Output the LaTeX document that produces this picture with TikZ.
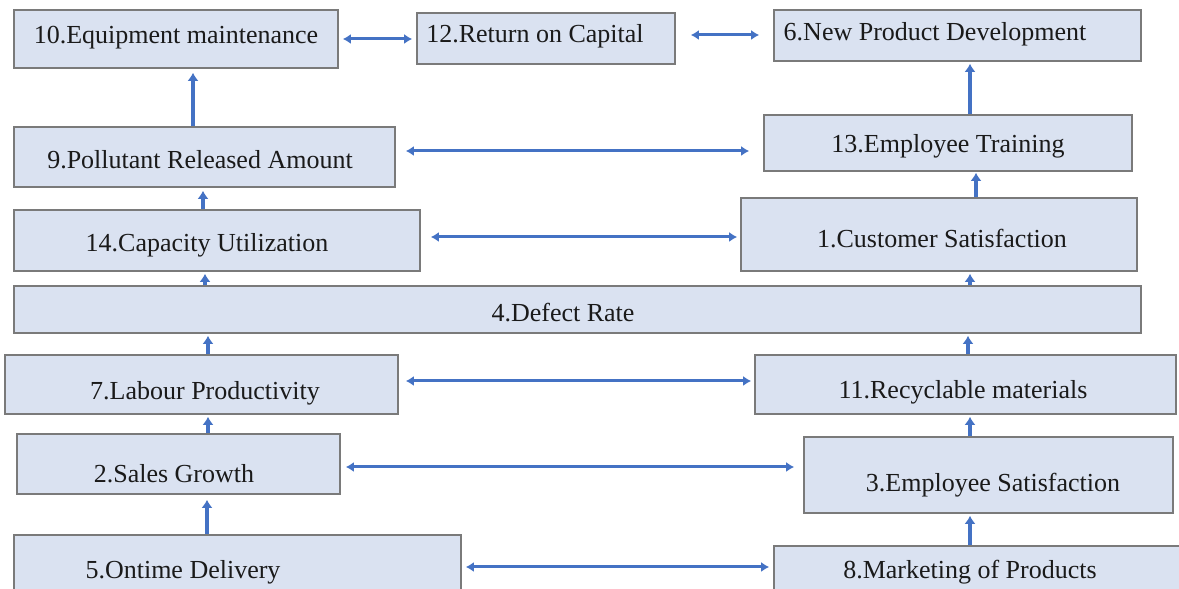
\documentclass[tikz,border=0pt]{standalone}
\usepackage{fontspec}
\setmainfont{Liberation Serif}
\usetikzlibrary{arrows.meta}
\definecolor{boxfill}{HTML}{DAE2F1}
\definecolor{boxline}{HTML}{7A7A7A}
\definecolor{arrblue}{HTML}{4472C4}
\definecolor{txt}{HTML}{1A1A1A}
\begin{document}
\begin{tikzpicture}[x=1pt,y=1pt,
  box/.style={draw=boxline, line width=1.6pt, fill=boxfill, inner sep=0pt},
  lbl/.style={text=txt, font=\fontsize{26}{30}\selectfont, inner sep=0pt},
  uparr/.style={draw=arrblue, line width=3.6pt, -{Latex[length=8pt,width=11pt]}},
  dbl/.style={draw=arrblue, line width=3pt, {Latex[length=8pt,width=10pt]}-{Latex[length=8pt,width=10pt]}}]
\useasboundingbox (0,0) rectangle (1179,589);
\fill[white] (0,0) rectangle (1179,589);
% boxes
\node[box, minimum width=324, minimum height=58] (n10) at (176,550) {};
\node[box, minimum width=258, minimum height=51] (n12) at (546,550.5) {};
\node[box, minimum width=367, minimum height=51] (n6) at (957.5,553.5) {};
\node[box, minimum width=381, minimum height=60] (n9) at (204.5,432) {};
\node[box, minimum width=368, minimum height=56] (n13) at (948,446) {};
\node[box, minimum width=406, minimum height=61] (n14) at (217,348.5) {};
\node[box, minimum width=396, minimum height=73] (n1) at (939,354.5) {};
\node[box, minimum width=1127, minimum height=47] (n4) at (577.5,279.5) {};
\node[box, minimum width=393, minimum height=59] (n7) at (201.5,204.5) {};
\node[box, minimum width=421, minimum height=59] (n11) at (965.5,204.5) {};
\node[box, minimum width=323, minimum height=60] (n2) at (178.5,125) {};
\node[box, minimum width=369, minimum height=76] (n3) at (988.5,114) {};
\node[box, minimum width=447, minimum height=70] (n5) at (237.5,19) {};
\node[box, minimum width=411, minimum height=48] (n8) at (979.5,19) {};
% labels
\node[lbl] (t10) at (176,551) {10.Equipment maintenance};
\node[lbl] (t12) at (535,553) {12.Return on Capital};
\node[lbl] (t6) at (935,555) {6.New Product Development};
\node[lbl] (t9) at (200,429) {9.Pollutant Released Amount};
\node[lbl] (t13) at (948,443) {13.Employee Training};
\node[lbl] (t14) at (207,344) {14.Capacity Utilization};
\node[lbl] (t1) at (942,350) {1.Customer Satisfaction};
\node[lbl] (t4) at (563,276) {4.Defect Rate};
\node[lbl] (t7) at (205,196) {7.Labour Productivity};
\node[lbl] (t11) at (963,197) {11.Recyclable materials};
\node[lbl] (t2) at (174,115) {2.Sales Growth};
\node[lbl] (t3) at (993,104) {3.Employee Satisfaction};
\node[lbl] (t5) at (183,17) {5.Ontime Delivery};
\node[lbl] (t8) at (970,17) {8.Marketing of Products};
% vertical arrows
\draw[uparr] ([xshift=-11.5pt]n9.north) -- ([xshift=17pt,yshift=-4pt]n10.south);
\draw[uparr] ([xshift=22pt]n13.north) -- ([xshift=12.5pt,yshift=-2pt]n6.south);
\draw[uparr] ([xshift=-14pt]n14.north) -- ([xshift=-1.5pt,yshift=-3pt]n9.south);
\draw[uparr] ([xshift=37pt]n1.north) -- ([xshift=28pt,yshift=-1pt]n13.south);
\draw[uparr] ([xshift=-372.5pt]n4.north) -- ([xshift=-12pt,yshift=-2pt]n14.south);
\draw[uparr] ([xshift=392.5pt]n4.north) -- ([xshift=31pt,yshift=-2pt]n1.south);
\draw[uparr] ([xshift=6.5pt]n7.north) -- ([xshift=-369.5pt,yshift=-2pt]n4.south);
\draw[uparr] ([xshift=2.5pt]n11.north) -- ([xshift=390.5pt,yshift=-2pt]n4.south);
\draw[uparr] ([xshift=29.5pt]n2.north) -- ([xshift=6.5pt,yshift=-2pt]n7.south);
\draw[uparr] ([xshift=-18.5pt]n3.north) -- ([xshift=4.5pt,yshift=-2pt]n11.south);
\draw[uparr] ([xshift=-30.5pt]n5.north) -- ([xshift=28.5pt,yshift=-5pt]n2.south);
\draw[uparr] ([xshift=-9.5pt]n8.north) -- ([xshift=-18.5pt,yshift=-2pt]n3.south);
% horizontal double arrows
\draw[dbl] ([xshift=4pt]n10.east) -- ([xshift=-4pt,yshift=-0.5pt]n12.west);
\draw[dbl] ([xshift=15pt,yshift=3.5pt]n12.east) -- ([xshift=-14pt,yshift=0.5pt]n6.west);
\draw[dbl] ([xshift=10pt,yshift=6pt]n9.east) -- ([xshift=-14pt,yshift=-8pt]n13.west);
\draw[dbl] ([xshift=10pt,yshift=3.5pt]n14.east) -- ([xshift=-3pt,yshift=-2.5pt]n1.west);
\draw[dbl] ([xshift=7pt,yshift=3.5pt]n7.east) -- ([xshift=-3pt,yshift=3.5pt]n11.west);
\draw[dbl] ([xshift=5pt,yshift=-3pt]n2.east) -- ([xshift=-9pt,yshift=8pt]n3.west);
\draw[dbl] ([xshift=4pt,yshift=3pt]n5.east) -- ([xshift=-4pt,yshift=3pt]n8.west);
\end{tikzpicture}
\end{document}
